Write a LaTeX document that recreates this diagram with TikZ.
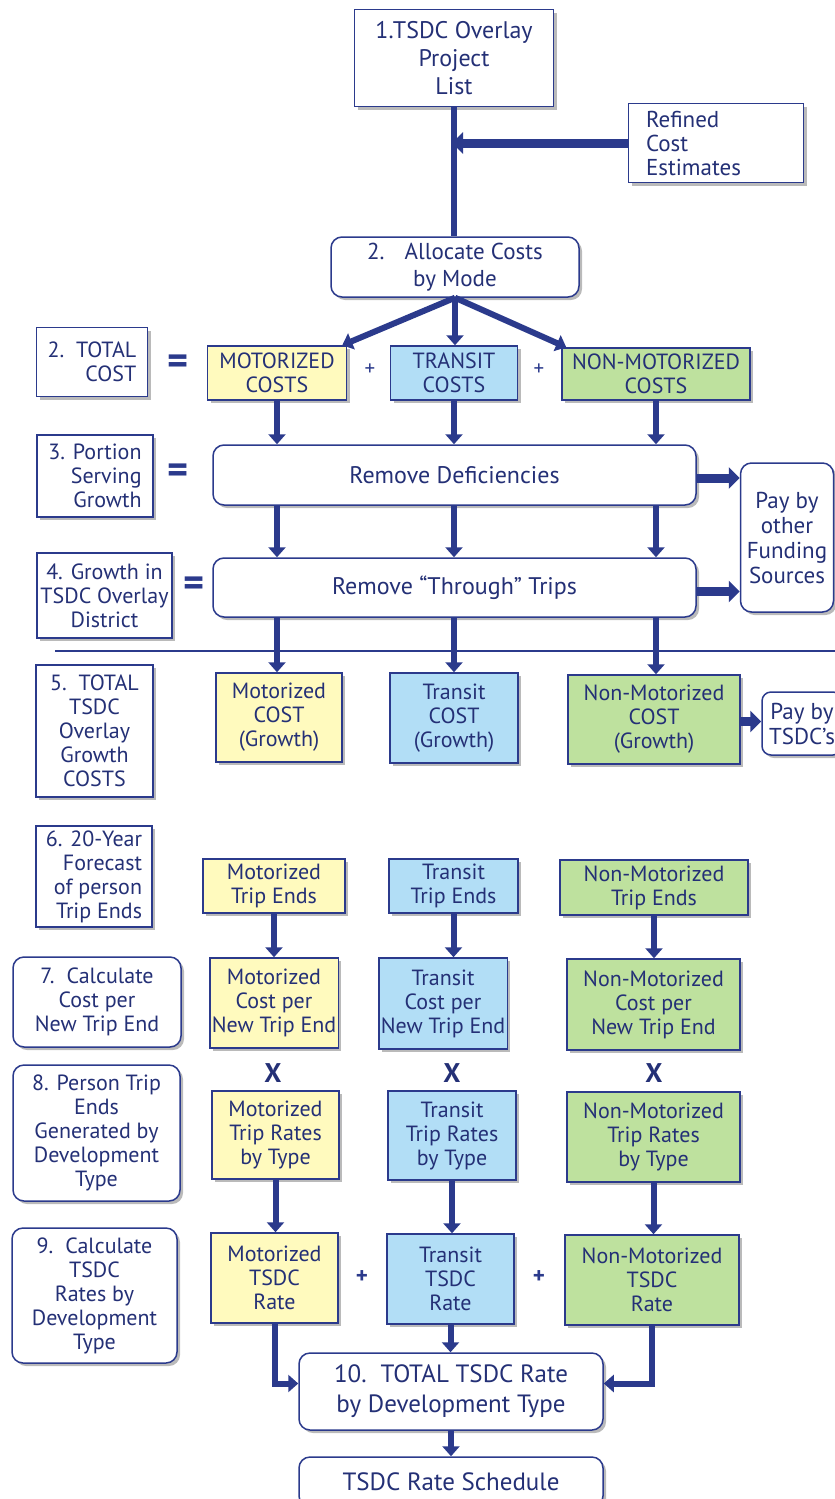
\documentclass[tikz,border=0pt]{standalone}
\usepackage{fontspec}
\setmainfont{PT Sans}
\usetikzlibrary{arrows.meta,shadows}

\definecolor{navy}{RGB}{43,58,140}
\definecolor{ink}{RGB}{36,48,118}
\definecolor{motfill}{RGB}{255,250,190}
\definecolor{trafill}{RGB}{178,222,246}
\definecolor{nonfill}{RGB}{190,225,158}

\tikzset{
  box/.style={draw=navy, line width=1.5pt, fill=white, text=ink, align=center,
    inner sep=2pt, font=\fontsize{22}{24}\selectfont,
    drop shadow={shadow xshift=3pt, shadow yshift=-3pt, opacity=.45, fill=black!60}},
  rbox/.style={box, rounded corners=11pt},
  mot/.style={box, fill=motfill},
  tra/.style={box, fill=trafill},
  non/.style={box, fill=nonfill},
  conn/.style={navy, line width=6pt, -{Triangle[length=10pt,width=17pt]}},
  fatconn/.style={navy, line width=9pt, -{Triangle[length=11pt,width=21pt]}},
  eqsign/.style={text=navy, font=\fontsize{40}{40}\selectfont\bfseries},
  plussign/.style={text=navy, font=\fontsize{23}{23}\selectfont\bfseries},
  timessign/.style={text=ink, font=\fontsize{27}{27}\selectfont\bfseries},
}

\begin{document}
\begin{tikzpicture}[x=1pt, y=-1pt]
    \useasboundingbox (0,0) rectangle (835,1499);

    % Project list and cost estimates
    \node[box, minimum width=199pt, minimum height=97pt, font=\fontsize{24}{28}\selectfont] (list) at (454,58) {1.TSDC Overlay\\Project\\List};
    \node[box, text width=140pt, align=left, minimum width=175pt, minimum height=79pt, font=\fontsize{23}{24}\selectfont] (refined) at (716,143) {Refined\\Cost\\Estimates};
    \node[rbox, minimum width=248pt, minimum height=60pt, font=\fontsize{23}{27}\selectfont] (alloc) at (455,267) {2.\hspace{20pt}Allocate Costs\\by Mode};

    % Left column
    \node[box, minimum width=111pt, minimum height=69pt, align=right] (total) at (92,362) {2.\ \ TOTAL\\COST};
    \node[box, minimum width=116pt, minimum height=82pt, align=right] (portion) at (95,476) {3. Portion\\Serving\\Growth};
    \node[box, minimum width=135pt, minimum height=85pt] (growth) at (104.5,595.5) {4. Growth in\\TSDC Overlay\\District};
    \node[box, minimum width=117pt, minimum height=132pt] (growthcost) at (94.5,731) {5.\ \ TOTAL\\TSDC\\Overlay\\Growth\\COSTS};
    \node[box, minimum width=116pt, minimum height=101pt, align=right] (forecast) at (94,876.5) {6. 20-Year\\Forecast\\of person\\Trip Ends};
    \node[rbox, minimum width=168pt, minimum height=90pt] (costper) at (97,1002) {7.\hspace{12pt}Calculate\\Cost per\\New Trip End};
    \node[rbox, minimum width=167pt, minimum height=136pt] (tripends) at (96.5,1133) {8. Person Trip\\Ends\\Generated by\\Development\\Type};
    \node[rbox, minimum width=165pt, minimum height=135pt] (rates) at (94.5,1295.5) {9.\hspace{12pt}Calculate\\TSDC\\Rates by\\Development\\Type};

    % Segni
    \node[eqsign] (eqa) at (178,365) {=};
    \node[eqsign] (eqb) at (178,474) {=};
    \node[eqsign] (eqc) at (194,587) {=};
    \node[plussign, font=\fontsize{21}{21}\selectfont] (plusa) at (370,370) {+};
    \node[plussign, font=\fontsize{21}{21}\selectfont] (plusb) at (539,370) {+};

    % Costs by mode
    \node[mot, minimum width=139pt, minimum height=54pt] (motc) at (277,373) {MOTORIZED\\COSTS};
    \node[tra, minimum width=127pt, minimum height=54pt] (trac) at (454,373) {TRANSIT\\COSTS};
    \node[non, minimum width=188pt, minimum height=52pt] (nonc) at (656,374) {NON-MOTORIZED\\COSTS};

    % Removals
    \node[rbox, minimum width=483pt, minimum height=60pt, font=\fontsize{24}{24}\selectfont] (rdef) at (454.5,475) {Remove Deficiencies};
    \node[rbox, minimum width=483pt, minimum height=59pt, font=\fontsize{24}{24}\selectfont] (rthr) at (454.5,587.5) {Remove “Through” Trips};
    \node[rbox, minimum width=93pt, minimum height=149pt, font=\fontsize{23}{25}\selectfont] (payother) at (787,537.5) {Pay by\\other\\Funding\\Sources};

    % Separator
    \draw[navy, line width=1.5pt] (55,651) -- (835,651);

    % Growth costs
    \node[mot, minimum width=126pt, minimum height=89pt] (motg) at (279,717.5) {Motorized\\COST\\(Growth)};
    \node[tra, minimum width=128pt, minimum height=90pt] (trag) at (454,718) {Transit\\COST\\(Growth)};
    \node[non, minimum width=172pt, minimum height=89pt] (nong) at (654,719.5) {Non-Motorized\\COST\\(Growth)};
    \node[rbox, minimum width=80pt, minimum height=63pt, rounded corners=9pt, font=\fontsize{23}{25}\selectfont] (paytsdc) at (802,723.5) {Pay by\\TSDC’s};

    % Trip ends
    \node[mot, minimum width=142pt, minimum height=54pt] (mote) at (274,886) {Motorized\\Trip Ends};
    \node[tra, minimum width=129pt, minimum height=54pt] (trae) at (453.5,886) {Transit\\Trip Ends};
    \node[non, minimum width=188pt, minimum height=55pt] (none) at (654,887.5) {Non-Motorized\\Trip Ends};

    % Cost per trip end
    \node[mot, minimum width=128pt, minimum height=90pt] (motn) at (274,1003) {Motorized\\Cost per\\New Trip End};
    \node[tra, minimum width=128pt, minimum height=91pt] (tran) at (443,1003.5) {Transit\\Cost per\\New Trip End};
    \node[non, minimum width=173pt, minimum height=91pt] (nonn) at (653.5,1004.5) {Non-Motorized\\Cost per\\New Trip End};

    \node[timessign] (xa) at (273,1073) {X};
    \node[timessign] (xb) at (452,1073) {X};
    \node[timessign] (xc) at (654,1073) {X};

    % Trip rates
    \node[mot, minimum width=127pt, minimum height=88pt] (motr) at (275.5,1135) {Motorized\\Trip Rates\\by Type};
    \node[tra, minimum width=128pt, minimum height=89pt] (trar) at (452,1135.5) {Transit\\Trip Rates\\by Type};
    \node[non, minimum width=173pt, minimum height=90pt] (nonr) at (653.5,1137) {Non-Motorized\\Trip Rates\\by Type};

    % TSDC rates
    \node[mot, minimum width=127pt, minimum height=90pt] (mott) at (274.5,1278) {Motorized\\TSDC\\Rate};
    \node[tra, minimum width=127pt, minimum height=90pt] (trat) at (450.5,1279) {Transit\\TSDC\\Rate};
    \node[non, minimum width=174pt, minimum height=90pt] (nont) at (652,1280) {Non-Motorized\\TSDC\\Rate};
    \node[plussign] (plusc) at (362,1277) {+};
    \node[plussign] (plusd) at (539,1277) {+};

    \node[rbox, minimum width=304pt, minimum height=77pt, font=\fontsize{25}{30}\selectfont] (total10) at (451,1391.5) {10.\hspace{14pt}TOTAL TSDC Rate\\by Development Type};
    \node[rbox, minimum width=304pt, minimum height=50pt, font=\fontsize{25}{28}\selectfont] (sched) at (451,1482) {TSDC Rate Schedule};

    % Connectors
    \draw[navy, line width=6pt] (list.south) -- (list.south |- alloc.north);
    \draw[fatconn, shorten >=-2pt] (refined.west) -- (refined.west -| list.south);
    \draw[conn] (alloc.south) -- ([xshift=-5pt]motc.north east);
    \draw[conn] (alloc.south) -- (alloc.south |- trac.north);
    \draw[conn] (alloc.south) -- ([xshift=5pt]nonc.north west);

    \draw[conn] (motc.south) -- (motc.south |- rdef.north);
    \draw[conn] (trac.south) -- (trac.south |- rdef.north);
    \draw[conn] (nonc.south) -- (nonc.south |- rdef.north);
    \draw[conn] (motc.south |- rdef.south) -- (motc.south |- rthr.north);
    \draw[conn] (trac.south |- rdef.south) -- (trac.south |- rthr.north);
    \draw[conn] (nonc.south |- rdef.south) -- (nonc.south |- rthr.north);
    \draw[fatconn] ([yshift=-3pt]rdef.east) -- ([yshift=-3pt]rdef.east -| payother.west);
    \draw[fatconn] ([yshift=-4pt]rthr.east) -- ([yshift=-4pt]rthr.east -| payother.west);

    \draw[conn] (motc.south |- rthr.south) -- (motc.south |- motg.north);
    \draw[conn] (trac.south |- rthr.south) -- (trac.south |- trag.north);
    \draw[conn] (nonc.south |- rthr.south) -- (nonc.south |- nong.north);
    \draw[fatconn] ([yshift=-2pt]nong.east) -- ([yshift=-2pt]nong.east -| paytsdc.west);

    \draw[conn] (mote.south) -- (mote.south |- motn.north);
    \draw[conn] (trae.south) -- (trae.south |- tran.north);
    \draw[conn] (none.south) -- (none.south |- nonn.north);

    \draw[conn] (motr.south) -- (motr.south |- mott.north);
    \draw[conn] (trar.south) -- (trar.south |- trat.north);
    \draw[conn] (nonr.south) -- (nonr.south |- nont.north);

    \draw[conn] (mott.south) |- ([yshift=8pt]total10.west);
    \draw[conn] (trat.south) -- (trat.south |- total10.north);
    \draw[conn] (nont.south) |- ([yshift=8pt]total10.east);
    \draw[conn] (total10.south) -- (total10.south |- sched.north);
\end{tikzpicture}
\end{document}
